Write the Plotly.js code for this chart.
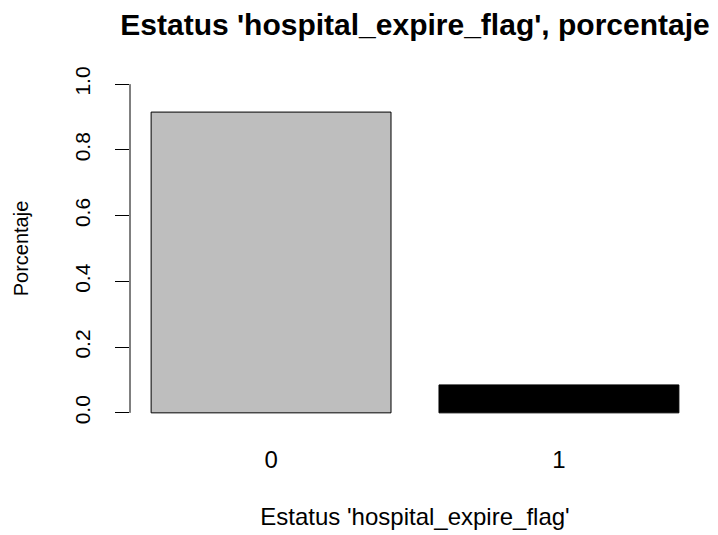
<!DOCTYPE html>
<html>
<head>
<meta charset="utf-8">
<script src="https://cdn.plot.ly/plotly-3.0.1.min.js"></script>
<style>html,body{margin:0;padding:0;background:#fff;}#chart{width:718px;height:535px;}</style>
</head>
<body>
<div id="chart"></div>
<script>
var categories = ["0", "1"];
var values = [0.915, 0.085];
var barColors = ["#BEBEBE", "#000000"];
var yTickVals = [0, 0.2, 0.4, 0.6, 0.8, 1.0];
var yTickText = ["0.0", "0.2", "0.4", "0.6", "0.8", "1.0"];

var trace = {
  type: "bar",
  x: categories,
  y: values,
  width: 1 / 1.2,
  marker: { color: barColors, line: { color: "#000000", width: 1 } },
  hoverinfo: "none"
};

var layout = {
  width: 718,
  height: 535,
  margin: { l: 130, r: 18, t: 71, b: 109 },
  paper_bgcolor: "#ffffff",
  plot_bgcolor: "#ffffff",
  showlegend: false,
  font: { family: "Liberation Sans, Arial, sans-serif", color: "#000000" },
  title: {
    text: "<b>Estatus 'hospital_expire_flag', porcentaje</b>",
    font: { size: 30, family: "Liberation Sans, Arial, sans-serif", color: "#000000" },
    xref: "paper", x: 0.5, xanchor: "center",
    yref: "container", y: 0.955, yanchor: "middle"
  },
  xaxis: {
    type: "category",
    range: [-0.49, 1.49],
    showgrid: false, zeroline: false, showline: false,
    ticks: "",
    tickfont: { size: 24 },
    ticklabelstandoff: 17,
    title: { text: "Estatus 'hospital_expire_flag'", font: { size: 24 }, standoff: 36 },
    fixedrange: true
  },
  yaxis: {
    range: [-0.04, 1.04],
    showgrid: false, zeroline: false, showline: false,
    tickmode: "array", tickvals: yTickVals, ticktext: yTickText,
    ticks: "outside", ticklen: 14, tickwidth: 1, tickcolor: "#000000",
    tickangle: -90,
    tickfont: { size: 21 },
    ticklabelstandoff: 17,
    title: { text: "Porcentaje", font: { size: 20 }, standoff: 36 },
    fixedrange: true
  },
  shapes: [{
    type: "line", xref: "paper", yref: "y",
    x0: 0, x1: 0, y0: 0, y1: 1,
    line: { color: "#000000", width: 1 }
  }]
};

Plotly.newPlot("chart", [trace], layout, { staticPlot: true, displayModeBar: false });
</script>
</body>
</html>
